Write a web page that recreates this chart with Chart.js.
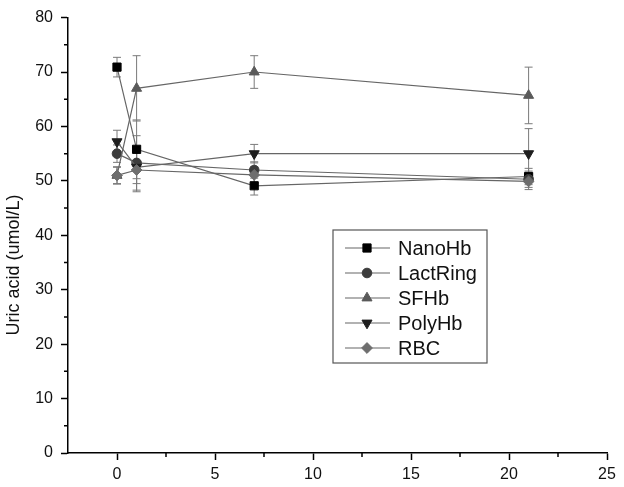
<!DOCTYPE html>
<html>
<head>
<meta charset="utf-8">
<script src="https://cdn.jsdelivr.net/npm/chart.js@4/dist/chart.umd.min.js"></script>
<style>
  html, body { margin: 0; padding: 0; background: #fff; }
  #wrap { width: 624px; height: 487px; position: relative; }
</style>
</head>
<body>
<div id="wrap"><canvas id="chart"></canvas></div>
<script>
// time points (x) shared by every series
const days = [0, 1, 7, 21];

const seriesNames = ['NanoHb', 'LactRing', 'SFHb', 'PolyHb', 'RBC'];

const nanoHb   = [70.9, 55.8, 49.1, 50.8];
const lactRing = [55.0, 53.3, 52.0, 50.3];
const sfHb     = [51.0, 67.0, 70.0, 65.7];
const polyHb   = [57.2, 52.5, 55.0, 55.0];
const rbc      = [51.0, 52.0, 51.1, 49.9];

// +/- error for each point
const nanoHbErr   = [1.8, 5.4, 1.7, 1.5];
const lactRingErr = [1.6, 5.0, 1.5, 1.5];
const sfHbErr     = [1.5, 6.0, 3.0, 5.2];
const polyHbErr   = [2.1, 3.0, 1.7, 4.6];
const rbcErr      = [1.6, 4.0, 1.5, 1.5];

const xTicks = [0, 5, 10, 15, 20, 25];

const toPoints = vals => vals.map((v, i) => ({ x: days[i], y: v }));

const lineColor = '#666666';
const fontFamily = '"Liberation Sans", Arial, sans-serif';

function makeSeries(label, data, err, color, style, rotation, radius, order) {
    return {
        label: label,
        data: toPoints(data),
        errors: err,
        borderColor: lineColor,
        borderWidth: 1.2,
        pointStyle: style,
        rotation: rotation,
        pointRadius: radius,
        pointBackgroundColor: color,
        pointBorderColor: color,
        pointBorderWidth: 1,
        order: order
    };
}

const datasets = [
    makeSeries(seriesNames[0], nanoHb, nanoHbErr, '#000000', 'rect', 0, 5.8, 5),
    makeSeries(seriesNames[1], lactRing, lactRingErr, '#3c3c3c', 'circle', 0, 4.8, 4),
    makeSeries(seriesNames[2], sfHb, sfHbErr, '#5a5a5a', 'triangle', 0, 5.8, 3),
    makeSeries(seriesNames[3], polyHb, polyHbErr, '#1e1e1e', 'triangle', 180, 5.8, 2),
    makeSeries(seriesNames[4], rbc, rbcErr, '#6e6e6e', 'rectRot', 0, 5.4, 1)
];

// error bars under the markers
const errorBars = {
    id: 'errorBars',
    beforeDatasetsDraw(chart) {
        const ctx = chart.ctx;
        const xs = chart.scales.x, ys = chart.scales.y;
        ctx.save();
        ctx.strokeStyle = '#7a7a7a';
        ctx.lineWidth = 1;
        chart.data.datasets.forEach(ds => {
            ds.data.forEach((p, i) => {
                const e = ds.errors[i];
                const px = xs.getPixelForValue(p.x);
                const top = ys.getPixelForValue(p.y + e);
                const bot = ys.getPixelForValue(p.y - e);
                ctx.beginPath();
                ctx.moveTo(px, top); ctx.lineTo(px, bot);
                ctx.moveTo(px - 4, top); ctx.lineTo(px + 4, top);
                ctx.moveTo(px - 4, bot); ctx.lineTo(px + 4, bot);
                ctx.stroke();
            });
        });
        ctx.restore();
    }
};

// minor ticks, y title and the boxed legend inside the plot
const extras = {
    id: 'extras',
    afterDraw(chart) {
        const ctx = chart.ctx;
        const xs = chart.scales.x, ys = chart.scales.y;
        const area = chart.chartArea;
        ctx.save();

        ctx.strokeStyle = '#000';
        ctx.lineWidth = 1.5;
        ctx.beginPath();
        for (let v = 5; v < 80; v += 10) {
            const py = ys.getPixelForValue(v);
            ctx.moveTo(area.left, py); ctx.lineTo(area.left - 4, py);
        }
        for (let v = 2.5; v < 25; v += 5) {
            const px = xs.getPixelForValue(v);
            ctx.moveTo(px, area.bottom); ctx.lineTo(px, area.bottom + 4);
        }
        ctx.stroke();

        // y axis title
        ctx.fillStyle = '#111';
        ctx.font = '18px ' + fontFamily;
        ctx.textAlign = 'center';
        ctx.textBaseline = 'middle';
        ctx.translate(14, 265);
        ctx.rotate(-Math.PI / 2);
        ctx.fillText('Uric acid (umol/L)', 0, 0);
        ctx.setTransform(1, 0, 0, 1, 0, 0);

        // legend
        const bx = 333, by = 230, bw = 154, bh = 133;
        ctx.strokeStyle = '#555';
        ctx.lineWidth = 1.2;
        ctx.strokeRect(bx, by, bw, bh);
        ctx.font = '20px ' + fontFamily;
        ctx.textAlign = 'left';
        chart.data.datasets.forEach((ds, i) => {
            const ry = by + 18 + i * 25;
            ctx.strokeStyle = lineColor;
            ctx.lineWidth = 1.2;
            ctx.beginPath();
            ctx.moveTo(bx + 12, ry); ctx.lineTo(bx + 57, ry);
            ctx.stroke();
            ctx.fillStyle = ds.pointBackgroundColor;
            ctx.strokeStyle = ds.pointBorderColor;
            ctx.lineWidth = 1;
            Chart.helpers.drawPoint(ctx, {
                pointStyle: ds.pointStyle,
                rotation: ds.rotation,
                radius: ds.pointRadius,
                borderWidth: 1
            }, bx + 34, ry);
            ctx.fillStyle = '#111';
            ctx.fillText(ds.label, bx + 65, ry + 1);
        });
        ctx.restore();
    }
};

new Chart(document.getElementById('chart'), {
    type: 'line',
    data: { datasets: datasets },
    options: {
        responsive: true,
        maintainAspectRatio: false,
        animation: false,
        layout: { padding: { top: 15, right: 17, left: 0, bottom: 0 } },
        plugins: { legend: { display: false }, tooltip: { enabled: false } },
        scales: {
            x: {
                type: 'linear',
                min: -2.5,
                max: 25,
                afterBuildTicks: s => { s.ticks = xTicks.map(v => ({ value: v })); },
                afterFit: s => { s.height = 34; },
                border: { color: '#000', width: 1.5 },
                grid: { drawOnChartArea: false, tickLength: 7, tickColor: '#000', tickWidth: 1.5 },
                ticks: { color: '#111', padding: 5, font: { family: fontFamily, size: 16 } }
            },
            y: {
                min: 0,
                max: 80,
                ticks: { stepSize: 10, color: '#111', padding: 8, font: { family: fontFamily, size: 16 } },
                afterFit: s => { s.width = 68; },
                border: { color: '#000', width: 1.5 },
                grid: { drawOnChartArea: false, tickLength: 7, tickColor: '#000', tickWidth: 1.5 }
            }
        }
    },
    plugins: [errorBars, extras]
});
</script>
</body>
</html>
